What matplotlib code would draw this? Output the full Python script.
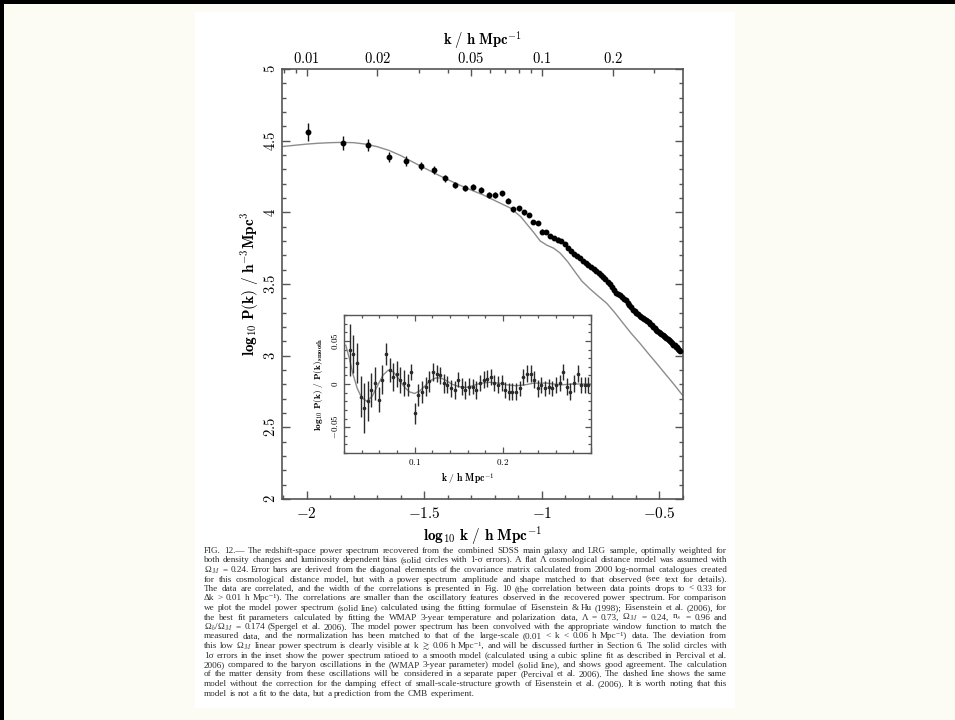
import numpy as np
import matplotlib
matplotlib.use("Agg")
import matplotlib.pyplot as plt
from matplotlib.patches import Rectangle

plt.rcParams['mathtext.fontset'] = 'cm'
plt.rcParams['font.family'] = ['DejaVu Serif']

# ---- measured power spectrum (band centres in h/Mpc) ----
k_bins = [
    0.0101, 0.0142, 0.0183, 0.0224, 0.0265, 0.0306, 0.0347, 0.0388, 0.0429, 0.0470,
    0.0511, 0.0552, 0.0593, 0.0634, 0.0675, 0.0716, 0.0757, 0.0798, 0.0839, 0.0880,
    0.0921, 0.0962, 0.1003, 0.1044, 0.1085, 0.1126, 0.1167, 0.1208, 0.1249, 0.1290,
    0.1331, 0.1372, 0.1413, 0.1454, 0.1495, 0.1536, 0.1577, 0.1618, 0.1659, 0.1700,
    0.1741, 0.1782, 0.1823, 0.1864, 0.1905, 0.1946, 0.1987, 0.2028, 0.2069, 0.2110,
    0.2151, 0.2192, 0.2233, 0.2274, 0.2315, 0.2356, 0.2397, 0.2438, 0.2479, 0.2520,
    0.2561, 0.2602, 0.2643, 0.2684, 0.2725, 0.2766, 0.2807, 0.2848, 0.2889, 0.2930,
    0.2971, 0.3012, 0.3053, 0.3094, 0.3135, 0.3176, 0.3217, 0.3258, 0.3299, 0.3340,
    0.3381, 0.3422, 0.3463, 0.3504, 0.3545, 0.3586, 0.3627, 0.3668, 0.3709, 0.3750,
    0.3791, 0.3832, 0.3873,
]
log_pk = [
    4.560, 4.486, 4.470, 4.388, 4.358, 4.325, 4.295, 4.237, 4.190, 4.172,
    4.175, 4.156, 4.121, 4.121, 4.133, 4.081, 4.021, 4.028, 4.000, 3.981,
    3.934, 3.927, 3.865, 3.865, 3.833, 3.822, 3.810, 3.800, 3.781, 3.752,
    3.733, 3.712, 3.694, 3.680, 3.661, 3.648, 3.636, 3.622, 3.604, 3.590,
    3.580, 3.566, 3.550, 3.534, 3.517, 3.498, 3.476, 3.455, 3.438, 3.431,
    3.421, 3.408, 3.398, 3.386, 3.368, 3.352, 3.337, 3.322, 3.310, 3.300,
    3.289, 3.277, 3.270, 3.262, 3.255, 3.246, 3.240, 3.232, 3.222, 3.213,
    3.202, 3.190, 3.180, 3.172, 3.164, 3.158, 3.152, 3.146, 3.139, 3.131,
    3.124, 3.116, 3.107, 3.099, 3.092, 3.085, 3.077, 3.071, 3.063, 3.057,
    3.047, 3.038, 3.030,
]
log_pk_err = [
    0.065, 0.050, 0.042, 0.034, 0.032, 0.028, 0.026, 0.024, 0.022, 0.021,
    0.020, 0.019, 0.018, 0.018, 0.018, 0.017, 0.017, 0.017, 0.016, 0.016,
    0.016, 0.016, 0.016, 0.015, 0.015, 0.015, 0.015, 0.015, 0.014, 0.014,
    0.014, 0.014, 0.014, 0.014, 0.014, 0.013, 0.013, 0.013, 0.013, 0.013,
    0.013, 0.013, 0.013, 0.013, 0.013, 0.013, 0.013, 0.012, 0.012, 0.012,
    0.012, 0.012, 0.012, 0.012, 0.012, 0.012, 0.012, 0.012, 0.012, 0.012,
    0.012, 0.012, 0.012, 0.012, 0.012, 0.012, 0.012, 0.012, 0.012, 0.012,
    0.012, 0.012, 0.012, 0.012, 0.012, 0.012, 0.012, 0.012, 0.012, 0.012,
    0.012, 0.012, 0.012, 0.012, 0.012, 0.012, 0.012, 0.012, 0.012, 0.012,
    0.012, 0.012, 0.012,
]

# ---- WMAP 3-year linear model, convolved with the window ----
model_logk = [
    -2.11, -2.05, -2.00, -1.95, -1.90, -1.85, -1.80, -1.75, -1.70, -1.65,
    -1.60, -1.55, -1.50, -1.45, -1.40, -1.35, -1.30, -1.25, -1.19, -1.134,
    -1.09, -1.05, -1.035, -1.007, -0.978, -0.95, -0.922, -0.89, -0.866, -0.83,
    -0.795, -0.76, -0.724, -0.69, -0.654, -0.62, -0.583, -0.548, -0.512, -0.477,
    -0.442, -0.40,
]
model_logpk = [
    4.458, 4.468, 4.476, 4.482, 4.486, 4.488, 4.486, 4.476, 4.458, 4.432,
    4.396, 4.352, 4.310, 4.268, 4.228, 4.190, 4.155, 4.122, 4.074, 4.030,
    3.970, 3.890, 3.860, 3.800, 3.770, 3.750, 3.715, 3.655, 3.600, 3.520,
    3.465, 3.415, 3.365, 3.300, 3.225, 3.155, 3.086, 3.016, 2.946, 2.876,
    2.807, 2.720,
]

# ---- inset: ratio to a smooth spline fit ----
inset_k = k_bins[4:71]
inset_ratio = [
    0.039, 0.035, 0.024, -0.0145, -0.028, -0.020, -0.007, 0.001, -0.018, 0.005,
    0.035, 0.016, 0.008, 0.012, 0.005, 0.001, -0.001, 0.014, -0.034, -0.013,
    -0.009, -0.003, 0.003, 0.014, 0.012, 0.010, 0.001, -0.001, -0.005, -0.007,
    0.005, -0.003, -0.007, -0.003, -0.003, -0.007, 0.001, 0.005, 0.006, 0.008,
    0.001, -0.001, 0.001, -0.007, -0.009, -0.009, -0.009, -0.005, 0.008, 0.012,
    0.012, 0.005, -0.005, -0.001, -0.005, -0.003, -0.005, -0.001, 0.001, 0.014,
    -0.003, -0.009, 0.001, 0.012, -0.001, -0.001, -0.001,
]
inset_err = [
    0.030, 0.022, 0.023, 0.024, 0.029, 0.023, 0.020, 0.019, 0.015, 0.017,
    0.013, 0.014, 0.016, 0.015, 0.015, 0.015, 0.013, 0.009, 0.012, 0.013,
    0.013, 0.011, 0.012, 0.010, 0.010, 0.010, 0.011, 0.010, 0.010, 0.010,
    0.009, 0.010, 0.010, 0.010, 0.009, 0.010, 0.009, 0.010, 0.010, 0.009,
    0.009, 0.010, 0.009, 0.009, 0.010, 0.010, 0.010, 0.009, 0.009, 0.010,
    0.010, 0.010, 0.010, 0.009, 0.009, 0.009, 0.009, 0.009, 0.009, 0.009,
    0.010, 0.010, 0.010, 0.010, 0.009, 0.009, 0.009,
]
inset_model_k = [
    0.022, 0.026, 0.030, 0.035, 0.040, 0.046, 0.052, 0.058, 0.064, 0.070,
    0.076, 0.082, 0.088, 0.094, 0.100, 0.106, 0.112, 0.118, 0.124, 0.130,
    0.136, 0.142, 0.150, 0.158, 0.166, 0.175, 0.185, 0.195, 0.205, 0.215,
    0.225, 0.235, 0.250, 0.265, 0.280, 0.300,
]
inset_model = [
    0.045, 0.030, 0.012, -0.005, -0.016, -0.020, -0.014, -0.002, 0.010, 0.016,
    0.014, 0.006, -0.003, -0.009, -0.011, -0.008, -0.002, 0.004, 0.007, 0.007,
    0.004, 0.000, -0.003, -0.004, -0.002, 0.001, 0.002, 0.001, -0.001, -0.002,
    -0.001, 0.001, 0.001, -0.001, 0.000, 0.000,
]

# ---- axes ticks ----
bottom_ticks = [-2, -1.5, -1, -0.5]
bottom_labels = [r'$-2$', r'$-1.5$', r'$-1$', r'$-0.5$']
y_ticks = [2, 2.5, 3, 3.5, 4, 4.5, 5]
y_labels = [r'$2$', r'$2.5$', r'$3$', r'$3.5$', r'$4$', r'$4.5$', r'$5$']
top_k_ticks = [0.01, 0.02, 0.05, 0.1, 0.2]
top_k_labels = [r'$0.01$', r'$0.02$', r'$0.05$', r'$0.1$', r'$0.2$']
top_k_minor = [0.008, 0.009, 0.03, 0.04, 0.06, 0.07, 0.08, 0.09, 0.3]
inset_x_ticks = [0.1, 0.2, 0.3]
inset_x_labels = [r'$0.1$', r'$0.2$', '']
inset_y_ticks = [-0.05, 0, 0.05]
inset_y_labels = [r'$-0.05$', r'$0$', r'$0.05$']

caption_lines = [
    "FIG. 12.— The redshift-space power spectrum recovered from the combined SDSS main galaxy and LRG sample, optimally weighted for",
    "both density changes and luminosity dependent bias (solid circles with 1-σ errors). A flat Λ cosmological distance model was assumed with",
    "Ω$_M$ = 0.24. Error bars are derived from the diagonal elements of the covariance matrix calculated from 2000 log-normal catalogues created",
    "for this cosmological distance model, but with a power spectrum amplitude and shape matched to that observed (see text for details).",
    "The data are correlated, and the width of the correlations is presented in Fig. 10 (the correlation between data points drops to < 0.33 for",
    "Δk > 0.01 h Mpc⁻¹). The correlations are smaller than the oscillatory features observed in the recovered power spectrum. For comparison",
    "we plot the model power spectrum (solid line) calculated using the fitting formulae of Eisenstein & Hu (1998); Eisenstein et al. (2006), for",
    "the best fit parameters calculated by fitting the WMAP 3-year temperature and polarization data, Λ = 0.73, Ω$_M$ = 0.24, n$_s$ = 0.96 and",
    "Ω$_b$/Ω$_M$ = 0.174 (Spergel et al. 2006). The model power spectrum has been convolved with the appropriate window function to match the",
    "measured data, and the normalization has been matched to that of the large-scale (0.01 < k < 0.06 h Mpc⁻¹) data. The deviation from",
    r"this low Ω$_M$ linear power spectrum is clearly visible at k $\gtrsim$ 0.06 h Mpc⁻¹, and will be discussed further in Section 6. The solid circles with",
    "1σ errors in the inset show the power spectrum ratioed to a smooth model (calculated using a cubic spline fit as described in Percival et al.",
    "2006) compared to the baryon oscillations in the (WMAP 3-year parameter) model (solid line), and shows good agreement. The calculation",
    "of the matter density from these oscillations will be considered in a separate paper (Percival et al. 2006). The dashed line shows the same",
    "model without the correction for the damping effect of small-scale-structure growth of Eisenstein et al. (2006). It is worth noting that this",
    "model is not a fit to the data, but a prediction from the CMB experiment.",
]

W, H = 955, 720
BG = '#fcfcf4'
INK = '#2a2a2a'
SPINE = '#555555'
MODEL = '#8c8c8c'


def fx(px):
    return px / W


def fy(py):
    return 1 - py / H


fig = plt.figure(figsize=(W / 100, H / 100), dpi=100, facecolor=BG)

# page and frame edges
fig.patches.append(Rectangle((fx(195), fy(708)), 540 / W, 696 / H, transform=fig.transFigure,
                             facecolor='white', edgecolor='none', zorder=-5))
fig.patches.append(Rectangle((0, fy(4)), 1, 4 / H, transform=fig.transFigure,
                             facecolor='black', edgecolor='none', zorder=10))
fig.patches.append(Rectangle((0, 0), 4 / W, 1, transform=fig.transFigure,
                             facecolor='black', edgecolor='none', zorder=10))

# ---- main panel ----
ax = fig.add_axes([fx(282), fy(499), 401 / W, 430 / H])
ax.set_facecolor('none')
ax.set_xlim(-2.105, -0.402)
ax.set_ylim(2, 5)

ax.plot(model_logk, model_logpk, color=MODEL, lw=1.0, zorder=2)
ax.errorbar(np.log10(k_bins), log_pk, yerr=log_pk_err, fmt='o', ms=3.2,
            color='black', ecolor='#111111', elinewidth=1.0, capsize=0, zorder=3)

ax.set_xticks(bottom_ticks)
ax.set_xticklabels(bottom_labels, fontsize=11)
ax.set_xticks(np.arange(-2.1, -0.39, 0.1), minor=True)
ax.set_yticks(y_ticks)
ax.set_yticklabels(y_labels, fontsize=10.5, rotation=90, va='center')
ax.set_yticks(np.arange(2.0, 5.01, 0.1), minor=True)
ax.tick_params(which='both', direction='in', top=False, right=True, color=SPINE)
ax.tick_params(which='major', length=6, width=1.0)
ax.tick_params(axis='x', which='major', pad=5)
ax.tick_params(axis='y', which='major', pad=3)
ax.tick_params(which='minor', length=3, width=1.0)
for s in ax.spines.values():
    s.set_color(SPINE)
    s.set_linewidth(1.2)

ax.set_xlabel(r'$\mathbf{log_{10}\ k\ /\ h\ Mpc^{-1}}$', fontsize=11, labelpad=3)
ax.set_ylabel(r'$\mathbf{log_{10}\ P(k)\ /\ h^{-3}Mpc^{3}}$', fontsize=11, labelpad=1)

# top axis in k
axt = ax.twiny()
axt.set_xlim(ax.get_xlim())
axt.set_xticks(np.log10(top_k_ticks))
axt.set_xticklabels(top_k_labels, fontsize=10.5)
axt.set_xticks(np.log10(top_k_minor), minor=True)
axt.tick_params(which='both', direction='in', color=SPINE)
axt.tick_params(which='major', length=5, width=1.0, pad=2)
axt.tick_params(which='minor', length=3, width=1.0)
for s in axt.spines.values():
    s.set_visible(False)
axt.set_xlabel(r'$\mathbf{k\ /\ h\ Mpc^{-1}}$', fontsize=10.5, labelpad=4)

# ---- inset: oscillations ----
axi = fig.add_axes([fx(344), fy(453), 247 / W, 138 / H])
axi.set_facecolor('white')
axi.set_xlim(0.02, 0.3)
axi.set_ylim(-0.08, 0.08)
axi.plot(inset_model_k, inset_model, color=MODEL, lw=1.0, zorder=2)
axi.errorbar(inset_k, inset_ratio, yerr=inset_err, fmt='o', ms=1.6,
             color='#2a2a2a', ecolor='#2a2a2a', elinewidth=1.0, capsize=0, zorder=3)
axi.set_xticks(inset_x_ticks)
axi.set_xticklabels(inset_x_labels, fontsize=6.5)
axi.set_xticks(np.arange(0.02, 0.301, 0.02), minor=True)
axi.set_yticks(inset_y_ticks)
axi.set_yticklabels(inset_y_labels, fontsize=6.5, rotation=90, va='center')
axi.set_yticks(np.arange(-0.08, 0.081, 0.01), minor=True)
axi.tick_params(which='both', direction='in', top=True, right=True, color=SPINE)
axi.tick_params(which='major', length=4, width=0.9, pad=3)
axi.tick_params(which='minor', length=2.2, width=0.9)
for s in axi.spines.values():
    s.set_color(SPINE)
    s.set_linewidth(1.0)
axi.set_xlabel(r'$\mathbf{k\ /\ h\ Mpc^{-1}}$', fontsize=7, labelpad=3)
axi.set_ylabel(r'$\mathbf{log_{10}\ P(k)\ /\ P(k)_{smooth}}$', fontsize=6.8, labelpad=3)

# ---- justified caption: words spread across a fixed measure ----
fig.canvas.draw()
renderer = fig.canvas.get_renderer()
cap_left, cap_right = 204, 727
cap_top, cap_step = 551, 9.5
measure = cap_right - cap_left
min_gap = 2.0
cap_family = ['Liberation Serif', 'DejaVu Serif']
for i, line in enumerate(caption_lines):
    words = line.split(' ')
    size = 6.6
    while True:
        objs = [fig.text(0, 0, w, fontsize=size, family=cap_family, color=INK,
                         va='center', ha='left') for w in words]
        widths = [o.get_window_extent(renderer).width for o in objs]
        if sum(widths) + min_gap * (len(words) - 1) <= measure or size < 5.0:
            break
        for o in objs:
            o.remove()
        size -= 0.15
    if i == len(caption_lines) - 1:
        gap = 2.4
    else:
        gap = (measure - sum(widths)) / (len(words) - 1)
    x = cap_left
    y = cap_top + i * cap_step
    for o, wdt in zip(objs, widths):
        o.set_position((fx(x), fy(y)))
        x += wdt + gap

fig.savefig('out.png', dpi=100, facecolor=BG)
